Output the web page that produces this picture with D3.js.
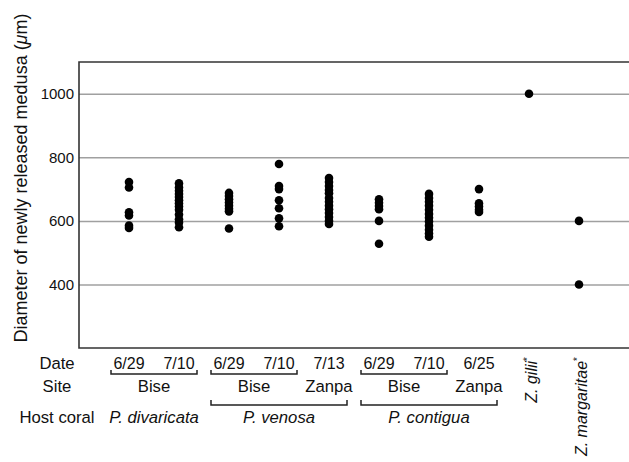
<!DOCTYPE html>
<html>
<head>
<meta charset="utf-8">
<script src="https://cdn.jsdelivr.net/npm/d3@7"></script>
<style>
  body { margin: 0; background: #fff; }
  text { font-family: "Liberation Sans", Arial, Helvetica, sans-serif; fill: #111; }
</style>
</head>
<body>
<div id="chart"></div>
<script>
// columns, left to right
const columns = ['pd1', 'pd2', 'pv1', 'pv2', 'pv3', 'pc1', 'pc2', 'pc3', 'zg', 'zm']
const dates = ['6/29', '7/10', '6/29', '7/10', '7/13', '6/29', '7/10', '6/25', '', '']

// medusa diameters (um)
const diameters = [
    [722, 705, 627, 617, 585, 578],
    [718, 705, 695, 685, 675, 665, 655, 645, 635, 620, 605, 595, 580],
    [688, 678, 668, 658, 648, 638, 630, 576],
    [779, 710, 700, 665, 640, 608, 583],
    [735, 722, 710, 697, 687, 672, 660, 648, 637, 625, 612, 600, 590],
    [668, 657, 647, 637, 600, 528],
    [685, 672, 660, 648, 635, 622, 610, 598, 585, 572, 560, 550],
    [700, 655, 645, 635, 628],
    [1000],
    [600, 400]
]

// site brackets: [first col, last col, label, bracket?]
const sites = [
    [0, 1, 'Bise', true],
    [2, 3, 'Bise', true],
    [4, 4, 'Zanpa', false],
    [5, 6, 'Bise', true],
    [7, 7, 'Zanpa', false]
]
const hosts = [
    [0, 1, 'P. divaricata', false],
    [2, 4, 'P. venosa', true],
    [5, 7, 'P. contigua', true]
]
const species = [[8, 'Z. gilii'], [9, 'Z. margaritae']]

const yTicks = [400, 600, 800, 1000]

const W = 629, H = 462
const mL = 79, mR = 629, mT = 62, mB = 348

const svg = d3.select('#chart').append('svg')
    .attr('width', W)
    .attr('height', H)

const x = d3.scalePoint().domain(columns).range([mL, mR]).padding(1)
const y = d3.scaleLinear().domain([200, 1100]).range([mB, mT])

// grid + tick labels
const yAxis = svg.append('g')
    .attr('transform', 'translate(' + mL + ',0)')
    .call(d3.axisLeft(y).tickValues(yTicks).tickFormat(d3.format('d')).tickSize(-(mR - mL)).tickPadding(5))
yAxis.select('.domain').remove()
yAxis.selectAll('.tick line').attr('stroke', '#a0a0a0').attr('stroke-width', 1.5)
yAxis.selectAll('.tick text')
    .style('font-family', '"Liberation Sans", Arial, sans-serif')
    .style('font-size', '15px')
    .attr('fill', '#222')

// frame (left, top, bottom)
svg.append('path')
    .attr('d', d3.line()([[mR, mT], [mL, mT], [mL, mB], [mR, mB]]))
    .attr('fill', 'none')
    .attr('stroke', '#333')
    .attr('stroke-width', 1.6)

// dots
const pts = []
diameters.forEach((vals, i) => vals.forEach(v => pts.push({ col: columns[i], v: v })))
svg.append('g').selectAll('circle')
    .data(pts)
    .enter()
    .append('circle')
    .attr('cx', d => x(d.col))
    .attr('cy', d => y(d.v))
    .attr('r', 4.3)
    .attr('fill', '#000')

// y title
const ytitle = svg.append('text')
    .attr('transform', 'translate(27,178) rotate(-90)')
    .attr('text-anchor', 'middle')
    .style('font-size', '18px')
ytitle.append('tspan').text('Diameter of newly released medusa (')
ytitle.append('tspan').style('font-style', 'italic').text('\u03bc')
ytitle.append('tspan').text('m)')

// row headers
const rowX = 57
const rows = [['Date', 369], ['Site', 392], ['Host coral', 423]]
svg.append('g').selectAll('text')
    .data(rows)
    .enter()
    .append('text')
    .attr('x', rowX)
    .attr('y', d => d[1])
    .attr('text-anchor', 'middle')
    .style('font-size', '16.7px')
    .text(d => d[0])

// dates
svg.append('g').selectAll('text')
    .data(columns.map((c, i) => ({ col: c, t: dates[i] })).filter(d => d.t))
    .enter()
    .append('text')
    .attr('x', d => x(d.col))
    .attr('y', 369)
    .attr('text-anchor', 'middle')
    .style('font-size', '16px')
    .text(d => d.t)

const bracket = (g, x0, x1, yy, h) => {
    g.append('path')
        .attr('d', d3.line()([[x0, yy - h], [x0, yy], [x1, yy], [x1, yy - h]]))
        .attr('fill', 'none')
        .attr('stroke', '#222')
        .attr('stroke-width', 1.5)
}

const bx0 = i => x(columns[i]) - 18
const bx1 = i => x(columns[i]) + 18
const mid = d => (x(columns[d[0]]) + x(columns[d[1]])) / 2

// sites
const gs = svg.append('g')
sites.forEach(d => {
    if (d[3]) bracket(gs, bx0(d[0]), bx1(d[1]), 374, 4)
    gs.append('text')
        .attr('x', mid(d))
        .attr('y', 392)
        .attr('text-anchor', 'middle')
        .style('font-size', '16.7px')
        .text(d[2])
})

// host corals
const gh = svg.append('g')
hosts.forEach(d => {
    if (d[3]) bracket(gh, bx0(d[0]), bx1(d[1]), 405, 5)
    gh.append('text')
        .attr('x', d[3] ? (bx0(d[0]) + bx1(d[1])) / 2 : mid(d))
        .attr('y', 423)
        .attr('text-anchor', 'middle')
        .style('font-size', '16.7px')
        .style('font-style', 'italic')
        .text(d[2])
})

// reference species, rotated
species.forEach(d => {
    const t = svg.append('text')
        .attr('transform', 'translate(' + (x(columns[d[0]]) + 8) + ',357) rotate(-90)')
        .attr('text-anchor', 'end')
        .style('font-size', '16px')
        .style('font-style', 'italic')
    t.append('tspan').text(d[1])
    t.append('tspan').attr('dy', -6).style('font-size', '10px').style('font-style', 'normal').text('*')
})
</script>
</body>
</html>
